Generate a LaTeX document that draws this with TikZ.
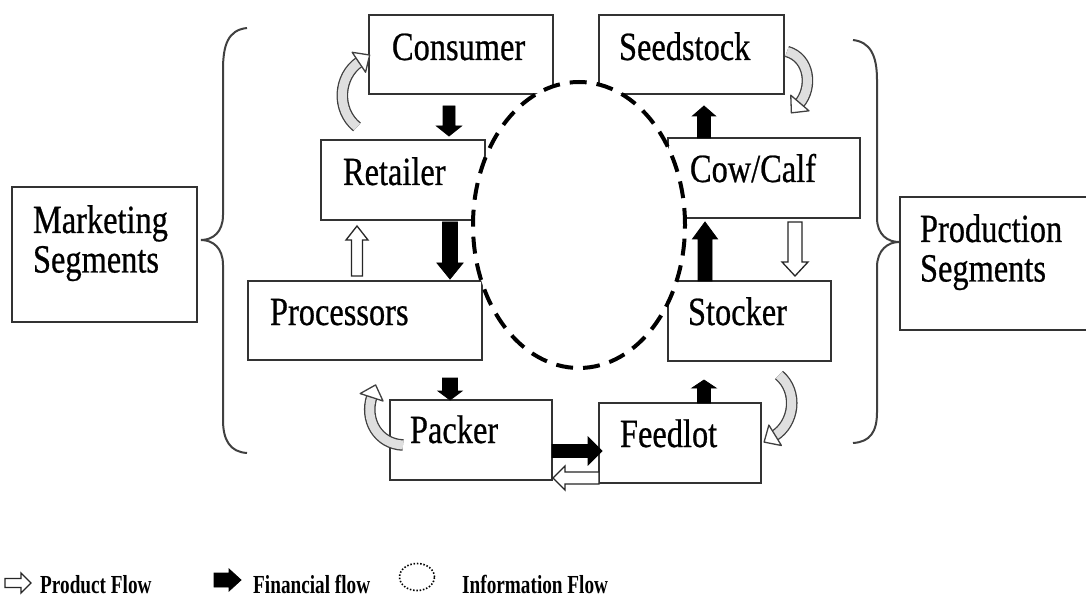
\documentclass[tikz,border=0pt]{standalone}
\usepackage{fontspec}
\newfontfamily\boxfont[FakeStretch=0.81,FakeBold=0.6]{Liberation Serif}
\newfontfamily\legfont[FakeStretch=0.74]{Liberation Serif}
\usetikzlibrary{calc,shapes.geometric,decorations.markings}

\newcommand{\blockarrow}[6]{%
  \path #2 coordinate (bas) #3 coordinate (bae);
  \path ($(bae)!#6!(bas)$) coordinate (bah);
  \draw[#1] ($(bas)!#4!90:(bae)$) -- ($(bah)!#4!90:(bae)$) -- ($(bah)!#5!90:(bae)$) -- (bae)
     -- ($(bah)!#5!-90:(bae)$) -- ($(bah)!#4!-90:(bae)$) -- ($(bas)!#4!-90:(bae)$) -- cycle;}
\newcommand{\curvedarrow}[1]{%
  \draw[band] #1;
  \path[postaction={headmark}] #1;}

\tikzset{
  box/.style={draw=black!80, line width=2.2pt, fill=white, inner ysep=0pt, outer sep=0pt,
    align=left, font=\boxfont\fontsize{40}{39.5}\selectfont, anchor=north west},
  bx/.style n args={4}{text width=#1, inner xsep=#2, text height=#3, text depth=#4},
  fin/.style={fill=black, draw=black, line width=0.8pt},
  prod/.style={fill=white, draw=black!85, line width=1.3pt},
  band/.style={draw=black!75, line width=1.3pt, double=gray!25, double distance=9pt},
  headmark/.style={decoration={markings, mark=at position 0.995 with {%
     \draw[draw=black!75, fill=white, line width=1.3pt, line join=round]
       (-1pt,-12pt) -- (12pt,0pt) -- (-1pt,12pt) -- cycle;}}, decorate},
  brace/.style={draw=black!75, line width=2pt},
  leg/.style={font=\legfont\bfseries\fontsize{26}{30}\selectfont, anchor=base west, inner sep=0pt}
}

\begin{document}
\begin{tikzpicture}[x=1pt, y=-1pt]
\useasboundingbox (0,0) rectangle (1086,609);
\clip (0,0) rectangle (1086,609);
\fill[white] (0,0) rectangle (1086,609);

% boxes
\node[box, bx={138pt}{23pt}{45pt}{34pt}] (consumer) at (369,15) {Consumer};
\node[box, bx={145pt}{20pt}{45pt}{34pt}] (seedstock) at (599,15) {Seedstock};
\node[box, bx={120pt}{22pt}{45pt}{35pt}] (retailer) at (321,140) {Retailer};
\node[box, bx={148pt}{22pt}{44pt}{36pt}] (cowcalf) at (668,138) {Cow/Calf};
\node[box, bx={190pt}{22pt}{44pt}{35pt}] (processors) at (248,281) {Processors};
\node[box, bx={123pt}{20pt}{44pt}{36pt}] (stocker) at (668,281) {Stocker};
\node[box, bx={122pt}{20pt}{43pt}{37pt}] (packer) at (390,400) {Packer};
\node[box, bx={120pt}{21pt}{44pt}{36pt}] (feedlot) at (599,403) {Feedlot};
\node[box, bx={143pt}{21pt}{46pt}{89pt}] (marketing) at (12,187) {Marketing\\Segments};
\node[box, bx={156pt}{20pt}{45pt}{88pt}] (production) at (900,197) {Production\\Segments};

% information flow circle
\node[ellipse, fill=white, draw=black, line width=4pt, dash pattern=on 17pt off 10pt,
      minimum width=212pt, minimum height=286pt, inner sep=0pt] (info) at (579,225) {};

% braces
\draw[brace] (247,28) .. controls (228,30) and (223,45) .. (223,70) -- (223,215)
  .. controls (223,232) and (213,240) .. (201,240)
  .. controls (213,240) and (223,248) .. (223,265) -- (223,420)
  .. controls (223,440) and (230,452) .. (247,453);
\draw[brace] (853,40) .. controls (870,42) and (877,55) .. (877,80) -- (877,218)
  .. controls (877,235) and (888,242) .. (899,242)
  .. controls (888,242) and (877,250) .. (877,267) -- (877,412)
  .. controls (877,432) and (870,442) .. (853,443);

% straight flow arrows
\blockarrow{fin}{($(consumer.south)+(-12,12)$)}{($(retailer.north)+(46,-4)$)}{6pt}{12.5pt}{10pt}
\blockarrow{fin}{($(retailer.south)+(47,2)$)}{($(processors.north)+(85,-2)$)}{7.5pt}{13pt}{16pt}
\blockarrow{prod}{($(processors.north)+(-8,-5)$)}{($(retailer.south)+(-46,6)$)}{5.5pt}{11pt}{14pt}
\blockarrow{fin}{($(processors.south)+(85,18)$)}{($(packer.north)+(-21,0)$)}{7.5pt}{12pt}{9pt}
\blockarrow{fin}{($(packer.east)+(0,11)$)}{($(feedlot.west)+(3,8)$)}{6.5pt}{14pt}{14pt}
\blockarrow{prod}{($(feedlot.west)+(0,35)$)}{($(packer.east)+(1,38)$)}{6pt}{12pt}{12pt}
\blockarrow{fin}{($(feedlot.north)+(24,0)$)}{($(stocker.south)+(-45.5,19)$)}{6.5pt}{12pt}{8pt}
\blockarrow{fin}{($(stocker.north)+(-44.5,0)$)}{($(cowcalf.south)+(-59,4)$)}{7pt}{12.5pt}{17pt}
\blockarrow{prod}{($(cowcalf.south)+(31,4)$)}{($(stocker.north)+(45.5,-5)$)}{7pt}{13pt}{14pt}
\blockarrow{fin}{($(cowcalf.north)+(-60,0)$)}{($(seedstock.south)+(12.5,12)$)}{6.5pt}{11.5pt}{10pt}

% curved flow arrows
\curvedarrow{($(retailer.north west)+(36,-13)$) .. controls (336,110) and (338,76) .. ($(consumer.west)+(-9,7)$)}
\curvedarrow{($(seedstock.east)+(3,-3)$) .. controls (810,58) and (813,88) .. ($(cowcalf.north)+(35,-34)$)}
\curvedarrow{($(packer.west)+(13,5)$) .. controls (378,444) and (364,420) .. ($(processors.south)+(7,36)$)}
\curvedarrow{($(stocker.south east)+(-52,14)$) .. controls (799,392) and (794,424) .. ($(feedlot.east)+(13,-7)$)}

% legend
\blockarrow{prod}{(5,583)}{(31,583)}{4.5pt}{10pt}{10pt}
\node[leg] (lprod) at (40,593) {Product Flow};
\blockarrow{fin}{(214,580)}{(241,580)}{7pt}{11pt}{12pt}
\node[leg] (lfin) at (253,593) {Financial flow};
\node[ellipse, draw=black, line width=1.6pt, dash pattern=on 1.5pt off 1.8pt,
      minimum width=35pt, minimum height=27pt, inner sep=0pt] (linfo) at (417,577) {};
\node[leg] (linf) at (462,593) {Information Flow};
\end{tikzpicture}
\end{document}
